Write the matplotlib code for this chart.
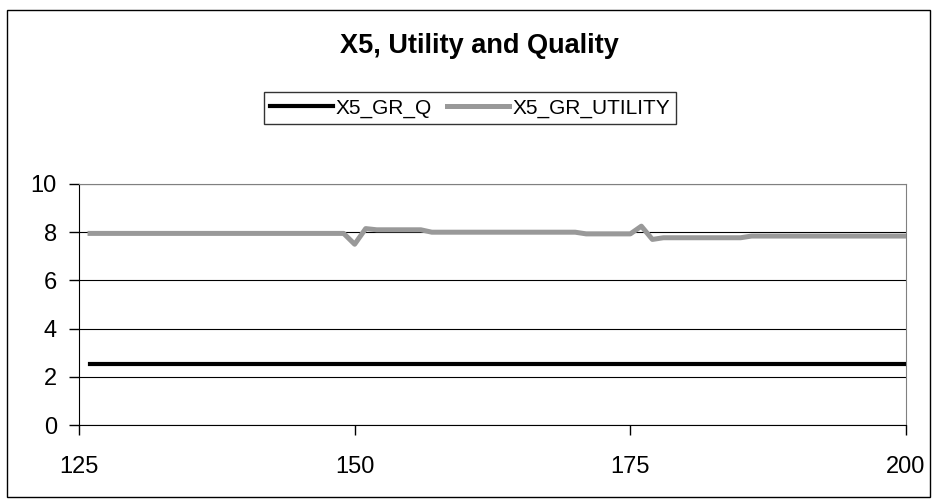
import matplotlib.pyplot as plt
from matplotlib.patches import Rectangle

# 資料：只在數值變化處取點
utility_x = [126, 149, 150, 151, 152, 156, 157, 170, 171, 175, 176, 177, 178, 185, 186, 200]
utility_y = [7.95, 7.95, 7.5, 8.15, 8.1, 8.1, 8.0, 8.0, 7.93, 7.93, 8.25, 7.7, 7.77, 7.77, 7.84, 7.84]
quality_x = [126, 200]
quality_y = [2.55, 2.55]

x_ticks = [125, 150, 175, 200]
y_ticks = [0, 2, 4, 6, 8, 10]

plt.rcParams['font.family'] = ['Liberation Sans', 'DejaVu Sans']

fig = plt.figure(figsize=(9.38, 5.04), dpi=100)
ax = fig.add_axes([79 / 938, 1 - 425 / 504, 827 / 938, 241 / 504])

# 外框
fig.patches.append(Rectangle((7 / 938, 1 - 497 / 504), 923 / 938, 487 / 504,
                             transform=fig.transFigure, fill=False,
                             edgecolor='black', linewidth=1))

ax.plot(quality_x, quality_y, color='black', linewidth=3, label='X5_GR_Q', zorder=3)
ax.plot(utility_x, utility_y, color='#999999', linewidth=3.6, label='X5_GR_UTILITY', zorder=3)

ax.set_xlim(125, 200)
ax.set_ylim(0, 10)
ax.set_xticks(x_ticks)
ax.set_yticks(y_ticks)
ax.tick_params(labelsize=17, length=7, width=1, color='black')
ax.tick_params(axis='x', pad=15)
ax.tick_params(axis='y', pad=9)
ax.grid(axis='y', color='black', linewidth=0.8, zorder=1)

for side in ['top', 'right']:
    ax.spines[side].set_color('#808080')
ax.spines['left'].set_color('black')
ax.spines['bottom'].set_color('black')

fig.text(479 / 938, 1 - 46 / 504, 'X5, Utility and Quality', ha='center', va='center',
         fontsize=19.5, fontweight='bold')

leg = fig.legend(loc='center', bbox_to_anchor=(470 / 938, 1 - 108 / 504), ncol=2,
                 fontsize=15, frameon=True, fancybox=False, handlelength=3.0,
                 handletextpad=0.15, columnspacing=0.7, borderpad=0.3,
                 borderaxespad=0)
leg.get_frame().set_edgecolor('black')
leg.get_frame().set_linewidth(1)

fig.savefig('out.png', dpi=100)
